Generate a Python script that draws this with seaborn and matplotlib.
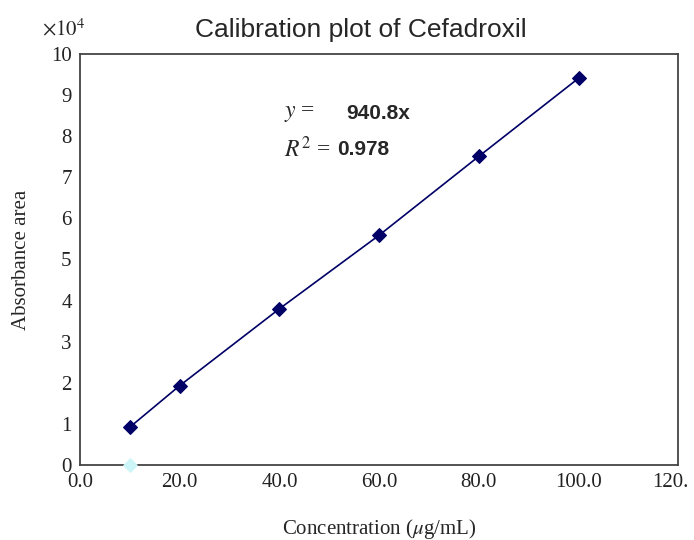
import numpy as np
import pandas as pd
import seaborn as sns
import matplotlib.pyplot as plt
import matplotlib.transforms as mtransforms
from matplotlib.ticker import FuncFormatter

# --- data ---
concentration = [10, 20, 40, 60, 80, 100]
absorbance = [9200, 19300, 38000, 55900, 75100, 94100]
blank_x = [10]
blank_y = [0]
x_ticks = [0, 20, 40, 60, 80, 100, 120]
x_tick_labels = ['0.0', '20.0', '40.0', '60.0', '80.0', '100.0', '120.']
y_ticks = [i * 10000 for i in range(11)]

df = pd.DataFrame({'conc': concentration, 'abs': absorbance})

sns.set_style('white')
plt.rcParams['font.family'] = ['Liberation Serif', 'DejaVu Serif']
plt.rcParams['mathtext.fontset'] = 'stix'

fig = plt.figure(figsize=(6.94, 5.4), dpi=100)
ax = fig.add_axes([0.1153, 0.139, 0.862, 0.761])

sns.lineplot(data=df, x='conc', y='abs', ax=ax, color='#000066', linewidth=1.2,
             marker='D', markersize=7, markeredgecolor='#000066')
ax.scatter(blank_x, blank_y, marker='D', s=45, color='#ccf5f8', zorder=5, clip_on=False)

ax.set_xlim(0, 120)
ax.set_ylim(0, 100000)
ax.set_xticks(x_ticks)
ax.set_xticklabels(x_tick_labels)
ax.set_yticks(y_ticks)
ax.yaxis.set_major_formatter(FuncFormatter(lambda v, p: f'{v / 1e4:.0f}'))
ax.tick_params(axis='both', length=0, labelsize=15, colors='#222222', pad=6)

# nudge the last x label left so it stays inside the figure
last = ax.get_xticklabels()[-1]
last.set_transform(last.get_transform() + mtransforms.ScaledTranslation(-6 / 72, 0, fig.dpi_scale_trans))

for s in ax.spines.values():
    s.set_color('#444444')
    s.set_linewidth(1.3)

ax.set_xlabel('Concentration ($\\mu$g/mL)', fontsize=15, labelpad=18)
ax.set_ylabel('Absorbance area', fontsize=15, labelpad=14)
ax.set_title('Calibration plot of Cefadroxil', fontsize=19, x=0.47,
             family=['Liberation Sans', 'DejaVu Sans'], pad=12)

fig.text(0.06, 0.935, '$\\times10^4$', fontsize=15)

# equation annotation
ax.text(41, 85500, '$y$ =', fontsize=17, va='center')
ax.text(53.5, 85500, '940.8x', fontsize=15, fontweight='bold',
        family=['Liberation Sans', 'DejaVu Sans'], va='center')
ax.text(41, 76800, '$R^2$ =', fontsize=17, va='center')
ax.text(51.5, 76800, '0.978', fontsize=15, fontweight='bold',
        family=['Liberation Sans', 'DejaVu Sans'], va='center')

fig.savefig('out.png', dpi=100)
